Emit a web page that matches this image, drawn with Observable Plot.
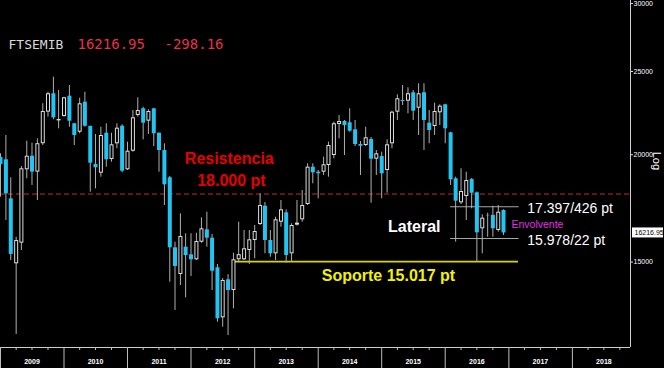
<!DOCTYPE html>
<html><head><meta charset="utf-8">
<script src="https://cdn.jsdelivr.net/npm/d3@7"></script>
<script src="https://cdn.jsdelivr.net/npm/@observablehq/plot@0.6"></script>
<style>
html,body{margin:0;padding:0;background:#000;}
#chart{width:664px;height:368px;overflow:hidden;background:#000;}
</style></head><body><div id="chart"></div>
<script>
// ---- data: FTSE MIB monthly candles, Dec 2008 .. Nov 2016 ----
const firstMonth = "2008-12";
const open = [
  19850,
  19730,17770,14930,15780,19210,19920,19090,20600,22420,23550,21900,22160,
  23400,21730,21245,23026,21573,19482,19035,21188,19747,20595,21590,19210,
  20190,22219,22622,21883,22622,21188,20228,18802,15584,14507,15609,15294,
  15091,15820,16354,15990,14770,12917,14303,13898,15091,15091,15472,15892,
  16589,17422,15892,15335,16691,17117,15335,16560,16799,17502,19344,19086,
  19086,19431,19959,21690,21865,21789,21382,20556,20501,20834,19763,19905,
  19173,20595,22417,23131,23088,23613,22658,23613,21766,21573,22381,22866,
  21211,18751,17582,17881,18716,18060,16398,17000,16993,16324,17222
];
const high = [
  20050,
  21060,18800,16030,19380,20740,20630,20870,22930,23650,24620,23760,23330,
  24080,21750,23274,23651,21600,21115,21532,21731,21188,21731,21672,20683,
  22519,23299,22719,22561,22650,21200,20595,18867,15820,17071,16180,16180,
  16206,16889,17144,16150,14900,14350,14500,15360,16691,16324,16324,16544,
  18011,17600,16324,16916,17691,17250,16620,17691,18172,19520,19520,19173,
  19868,20683,21824,22219,21924,22622,21924,20722,21532,20946,20228,20136,
  20817,22477,23487,24080,23932,23759,24190,24190,22519,22964,22866,22900,
  21240,18832,19261,19086,18760,18100,17025,17098,17422,17455,17255
];
const low = [
  17850,
  16770,15060,12350,15470,18750,18420,17690,20500,22120,21970,21440,22120,
  21530,20500,21154,21532,18089,18255,18832,19344,19604,20321,19056,19173,
  20136,22118,20817,21115,20446,19086,17455,14211,13173,14086,13629,14430,
  15062,15777,15609,13898,12766,12596,12319,13233,15000,15062,14902,15131,
  16544,15335,15196,15062,16469,14954,14994,16520,16691,17455,18501,17771,
  18917,18832,19784,20873,19959,21245,20446,18917,20446,17563,18917,17771,
  18040,20321,21924,22823,22321,21924,21058,20228,20595,21058,21632,20595,
  18417,15820,17502,16767,17301,15017,15335,16033,16033,16250,16106
];
const close = [
  19480,
  18010,15310,15890,19260,19920,19090,20600,22460,23550,22080,21980,23300,
  21880,21060,22927,21590,19552,19313,21058,19732,20540,21475,19137,20190,
  22083,22519,21766,22459,21154,20228,18452,15584,14822,16063,15266,15091,
  15849,16398,15990,14636,12883,14276,13898,15091,15300,15542,15922,16280,
  17455,15892,15335,16799,17255,15266,16544,16650,17455,19344,19056,19005,
  19468,20501,21731,21865,21632,21302,20556,20463,20929,19763,20050,19005,
  20540,22417,23237,23069,23550,22477,23550,21924,21342,22459,22780,21440,
  18701,17658,18123,18666,18040,16223,16871,16980,16398,17144,16216.95
];
const lastPrice = 16216.95;
const lastChange = -298.16;
const resistance = 18000;
const support = 15017;
const rangeLevels = [17397, 15978];
const yTicks = [15000, 20000, 25000, 30000];
const yearLabels = [2009, 2010, 2011, 2012, 2013, 2014, 2015, 2016, 2017, 2018];

// ---- build table ----
const startMonth = d3.utcParse("%Y-%m")(firstMonth);
const candles = open.map((o, i) => ({
  date: d3.utcMonth.offset(startMonth, i + 1), // bar drawn at period end
  o, h: high[i], l: low[i], c: close[i]
}));
const upBars = candles.filter(d => d.c >= d.o);
const downBars = candles.filter(d => d.c < d.o);
const upHollow = upBars.filter(d => Math.log(d.c / d.o) * 373 > 2.5);
const bodyTop = d => Math.max(d.o, d.c), bodyBot = d => Math.min(d.o, d.c);

const xStart = new Date(Date.UTC(2009, 0, 1));
const xEnd = new Date(Date.UTC(2018, 11, 1));
const yDomain = [11929, 30242];
const yearStarts = yearLabels.map(y => new Date(Date.UTC(y, 0, 1)));
const midYears = yearLabels.map(y => new Date(Date.UTC(y, 6, 1)));
const quarters = yearLabels.flatMap(y => [3, 6, 9].map(m => new Date(Date.UTC(y, m, 1))));
const D = s => new Date(s + "T00:00:00Z");

const font = "'Liberation Sans', Arial, sans-serif";
const mono = "'DejaVu Sans Mono', monospace";

const chart = Plot.plot({
  width: 664, height: 368,
  marginLeft: 0, marginRight: 34, marginTop: 0, marginBottom: 21,
  style: {background: "#000", color: "#fff", fontFamily: font, overflow: "visible"},
  x: {type: "utc", domain: [xStart, xEnd]},
  y: {type: "log", domain: yDomain},
  marks: [
    // header
    Plot.text(["FTSEMIB"], {text: d => d, frameAnchor: "top-left", dx: 8, dy: 44, textAnchor: "start", lineAnchor: "middle", fill: "#d8d8d8", fontSize: 13, fontFamily: mono}),
    Plot.text([lastPrice], {text: d => d.toFixed(2), frameAnchor: "top-left", dx: 77, dy: 44, textAnchor: "start", lineAnchor: "middle", fill: "#e8304a", fontSize: 14, fontFamily: mono}),
    Plot.text([lastChange], {text: d => d.toFixed(2), frameAnchor: "top-left", dx: 164, dy: 44, textAnchor: "start", lineAnchor: "middle", fill: "#e8304a", fontSize: 14, fontFamily: mono}),
    // resistance
    Plot.ruleY([resistance], {stroke: "#c62a2a", strokeWidth: 1, strokeDasharray: "5,3"}),
    // lateral range lines
    Plot.ruleY(rangeLevels, {y: d => d, x1: () => D("2016-02-01"), x2: () => D("2017-03-01"), stroke: "#a8a8a8", strokeWidth: 1}),
    // support
    Plot.ruleY([support], {y: d => d, x1: () => D("2012-09-01"), x2: () => D("2017-02-25"), stroke: "#d8d400", strokeWidth: 1.6}),
    // candles
    Plot.ruleX(candles, {x: "date", y1: "h", y2: "l", stroke: "#b0b0b0", strokeWidth: 1, clip: true}),
    Plot.ruleX(downBars, {x: "date", y1: bodyTop, y2: bodyBot, stroke: "#22c4f2", strokeWidth: 4, clip: true}),
    Plot.ruleX(upBars, {x: "date", y1: bodyTop, y2: bodyBot, stroke: "#dcdcdc", strokeWidth: 4, clip: true}),
    Plot.ruleX(upHollow, {x: "date", y1: bodyTop, y2: bodyBot, stroke: "#000", strokeWidth: 2, insetTop: 1, insetBottom: 1, clip: true}),
    // annotations
    Plot.text(["Resistencia"], {text: d => d, x: () => D("2012-08-08"), y: () => 19800, fill: "#e80000", fontSize: 16, fontWeight: "bold"}),
    Plot.text(["18.000 pt"], {text: d => d, x: () => D("2012-08-20"), y: () => 18666, fill: "#e80000", fontSize: 16, fontWeight: "bold"}),
    Plot.text(["Lateral"], {text: d => d, x: () => D("2015-07-07"), y: () => 16500, fill: "#ffffff", fontSize: 16, fontWeight: "bold"}),
    Plot.text(["Soporte 15.017 pt"], {text: d => d, x: () => D("2015-02-09"), y: () => 14468, fill: "#f2f200", fontSize: 16, fontWeight: "bold"}),
    Plot.text(["17.397/426 pt"], {text: d => d, x: () => D("2017-04-17"), y: () => 17315, textAnchor: "start", fill: "#ffffff", fontSize: 14}),
    Plot.text(["15.978/22 pt"], {text: d => d, x: () => D("2017-04-17"), y: () => 15892, textAnchor: "start", fill: "#ffffff", fontSize: 14}),
    Plot.text(["Envolvente"], {text: d => d, x: () => D("2017-01-16"), y: () => 16589, textAnchor: "start", fill: "#e030e0", fontSize: 10.5}),
    // frame lines
    Plot.ruleX([xEnd], {stroke: "#cfcfcf", strokeWidth: 1}),
    Plot.ruleY([yDomain[0]], {stroke: "#cfcfcf", strokeWidth: 1}),
    // y axis (right)
    Plot.axisY(yTicks, {anchor: "right", tickSize: 2, tickPadding: 1, tickFormat: d => String(d), fontSize: 7, fill: "#ffffff", stroke: "#dddddd", label: null}),
    Plot.text(["Log"], {text: d => d, frameAnchor: "right", dx: 26, dy: -4, rotate: 90, fill: "#ffffff", fontSize: 11}),
    // last price box
    Plot.rect([lastPrice], {x1: () => xEnd, x2: () => xEnd, y1: d => d, y2: d => d, insetLeft: 2, insetRight: -33, insetTop: -5, insetBottom: -5, fill: "#ffffff"}),
    Plot.text([lastPrice], {text: d => d.toFixed(2), x: () => xEnd, y: d => d, dx: 4, textAnchor: "start", fill: "#000", fontSize: 7}),
    // x axis (bottom)
    Plot.axisX(yearStarts, {tickSize: 21, tickFormat: () => "", stroke: "#bdbdbd", label: null}),
    Plot.axisX(quarters, {tickSize: 3, tickFormat: () => "", stroke: "#bdbdbd", label: null}),
    Plot.axisX(midYears, {tickSize: 0, tickPadding: 12, tickFormat: d => String(d.getUTCFullYear()), fontSize: 7, fontWeight: "bold", fill: "#ffffff", label: null})
  ]
});
document.getElementById("chart").appendChild(chart);
</script>
</body></html>
